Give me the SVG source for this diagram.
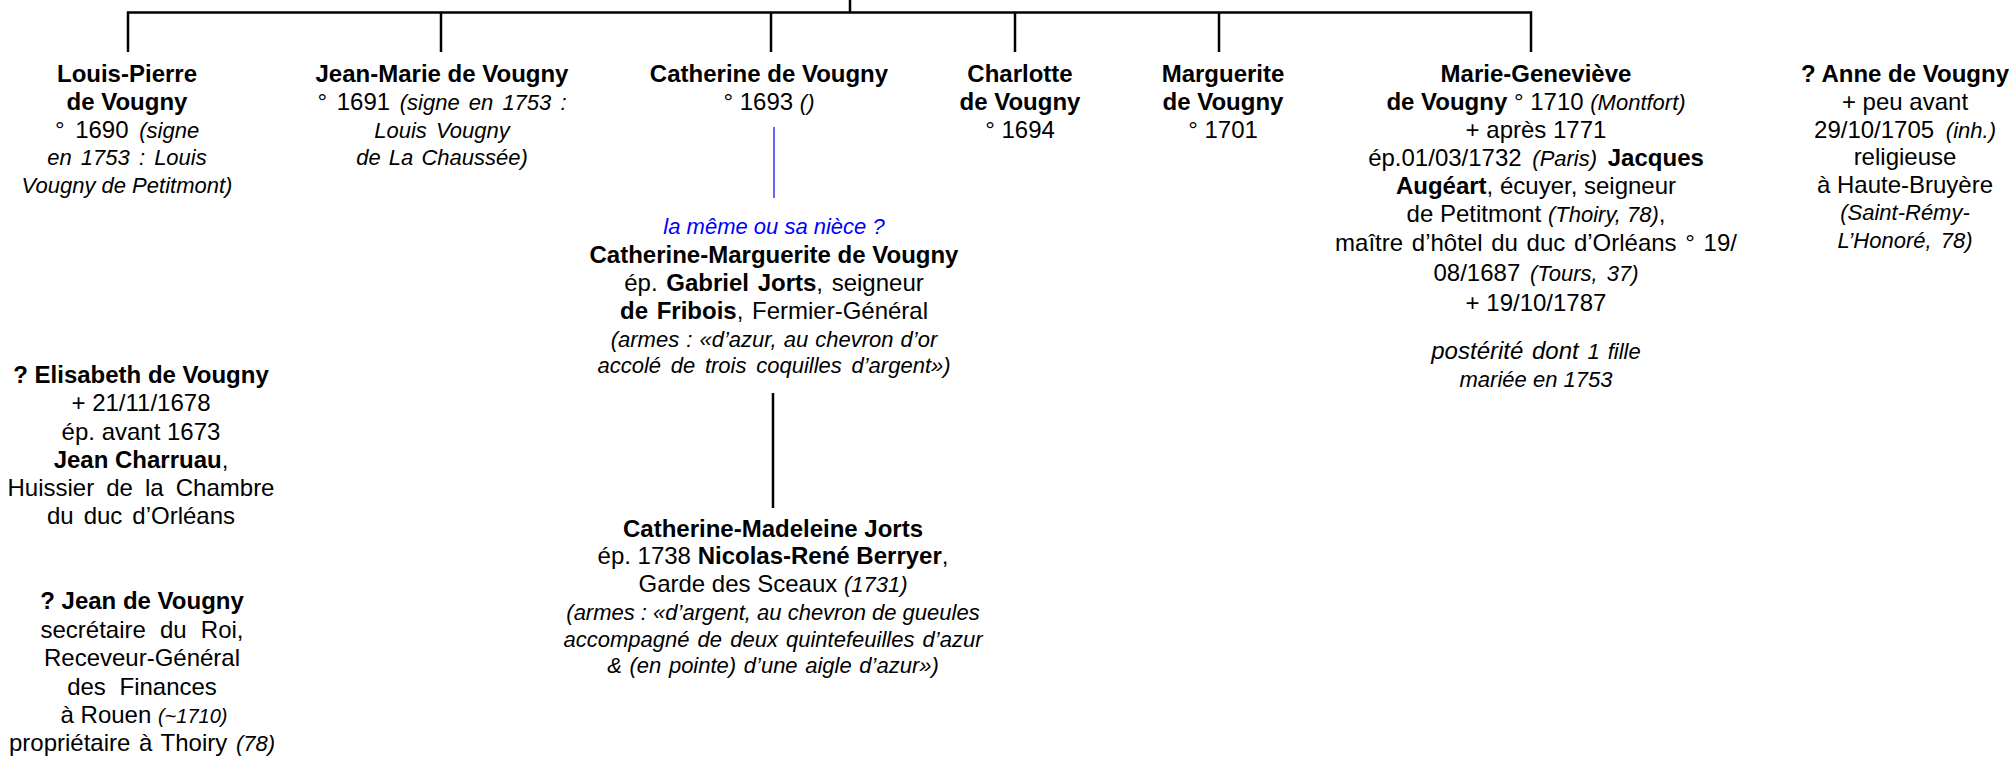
<svg xmlns="http://www.w3.org/2000/svg" width="2011" height="758" viewBox="0 0 2011 758">
<style>
text{font-family:"Liberation Sans",Arial,Helvetica,sans-serif;font-size:24px;fill:#000;text-anchor:middle}
.b{font-weight:bold}
.i{font-style:italic;font-size:22px}
.i20{font-style:italic;font-size:20px}
.i24{font-style:italic;font-size:24px}
.blue{fill:#0000FF}
.ln{stroke:#000;stroke-width:2.5;fill:none}
.lb{stroke:#0000FF;stroke-width:1.2;fill:none}
</style>
<rect width="2011" height="758" fill="#fff"/>
<g id="connectors">
<path class="ln" d="M850,0V12.5M128,52V12.5H1531V52M441,12.5V52M771,12.5V52M1015,12.5V52M1219,12.5V52"/>
<path class="lb" d="M774,127V198"/>
<path class="ln" d="M773,393V508"/>
</g>
<g id="louis-pierre">
<text x="127" y="82" class="b">Louis-Pierre</text>
<text x="127" y="110" class="b">de Vougny</text>
<text x="127" y="138" word-spacing="4">° 1690 <tspan class="i">(signe</tspan></text>
<text x="127" y="165" class="i" word-spacing="3">en 1753 : Louis</text>
<text x="127" y="193" class="i">Vougny de Petitmont)</text>
</g>
<g id="jean-marie">
<text x="442" y="82" class="b">Jean-Marie de Vougny</text>
<text x="442" y="110" word-spacing="3">° 1691 <tspan class="i">(signe en 1753 :</tspan></text>
<text x="442" y="138" class="i" word-spacing="3">Louis Vougny</text>
<text x="442" y="165" class="i" word-spacing="2">de La Chaussée)</text>
</g>
<g id="catherine">
<text x="769" y="82" class="b">Catherine de Vougny</text>
<text x="769" y="110">° 1693 <tspan class="i">()</tspan></text>
</g>
<g id="catherine-marguerite">
<text x="774" y="234" class="i blue">la même ou sa nièce ?</text>
<text x="774" y="263" class="b">Catherine-Marguerite de Vougny</text>
<text x="774" y="291" word-spacing="2">ép. <tspan class="b">Gabriel Jorts</tspan>, seigneur</text>
<text x="774" y="319" word-spacing="2"><tspan class="b">de Fribois</tspan>, Fermier-Général</text>
<text x="774" y="347" class="i" word-spacing="1">(armes : «d’azur, au chevron d’or</text>
<text x="774" y="373" class="i" word-spacing="3.6">accolé de trois coquilles d’argent»)</text>
</g>
<g id="catherine-madeleine">
<text x="773" y="537" class="b">Catherine-Madeleine Jorts</text>
<text x="773" y="564">ép. 1738 <tspan class="b">Nicolas-René Berryer</tspan>,</text>
<text x="773" y="592">Garde des Sceaux <tspan class="i">(1731)</tspan></text>
<text x="773" y="620" class="i">(armes : «d’argent, au chevron de gueules</text>
<text x="773" y="647" class="i" word-spacing="2">accompagné de deux quintefeuilles d’azur</text>
<text x="773" y="673" class="i" word-spacing="1.5">&amp; (en pointe) d’une aigle d’azur»)</text>
</g>
<g id="charlotte">
<text x="1020" y="82" class="b">Charlotte</text>
<text x="1020" y="110" class="b">de Vougny</text>
<text x="1020" y="138">° 1694</text>
</g>
<g id="marguerite">
<text x="1223" y="82" class="b">Marguerite</text>
<text x="1223" y="110" class="b">de Vougny</text>
<text x="1223" y="138">° 1701</text>
</g>
<g id="marie-genevieve">
<text x="1536" y="82" class="b">Marie-Geneviève</text>
<text x="1536" y="110"><tspan class="b">de Vougny</tspan> ° 1710 <tspan class="i">(Montfort)</tspan></text>
<text x="1536" y="138">+ après 1771</text>
<text x="1536" y="166" word-spacing="4">ép.01/03/1732 <tspan class="i">(Paris)</tspan> <tspan class="b">Jacques</tspan></text>
<text x="1536" y="194"><tspan class="b">Augéart</tspan>, écuyer, seigneur</text>
<text x="1536" y="222">de Petitmont <tspan class="i">(Thoiry, 78)</tspan>,</text>
<text x="1536" y="251" word-spacing="2">maître d’hôtel du duc d’Orléans ° 19/</text>
<text x="1536" y="281" word-spacing="3">08/1687 <tspan class="i">(Tours, 37)</tspan></text>
<text x="1536" y="311">+ 19/10/1787</text>
<text x="1536" y="359" class="i24" word-spacing="2">postérité dont <tspan class="i">1 fille</tspan></text>
<text x="1536" y="387" class="i">mariée en 1753</text>
</g>
<g id="anne">
<text x="1905" y="82" class="b">? Anne de Vougny</text>
<text x="1905" y="110">+ peu avant</text>
<text x="1905" y="138" word-spacing="5">29/10/1705 <tspan class="i">(inh.)</tspan></text>
<text x="1905" y="165">religieuse</text>
<text x="1905" y="193">à Haute-Bruyère</text>
<text x="1905" y="220" class="i">(Saint-Rémy-</text>
<text x="1905" y="248" class="i" word-spacing="3">L’Honoré, 78)</text>
</g>
<g id="elisabeth">
<text x="141" y="383" class="b">? Elisabeth de Vougny</text>
<text x="141" y="411">+ 21/11/1678</text>
<text x="141" y="439.5">ép. avant 1673</text>
<text x="141" y="467.5"><tspan class="b">Jean Charruau</tspan>,</text>
<text x="141" y="496" word-spacing="5.4">Huissier de la Chambre</text>
<text x="141" y="524" word-spacing="3.3">du duc d’Orléans</text>
</g>
<g id="jean">
<text x="142" y="609" class="b">? Jean de Vougny</text>
<text x="142" y="637.5" word-spacing="7.5">secrétaire du Roi,</text>
<text x="142" y="666">Receveur-Général</text>
<text x="142" y="694.5" word-spacing="7">des Finances</text>
<text x="144" y="723">à Rouen <tspan class="i20">(~1710)</tspan></text>
<text x="142" y="751" word-spacing="2">propriétaire à Thoiry <tspan class="i">(78)</tspan></text>
</g>
</svg>
